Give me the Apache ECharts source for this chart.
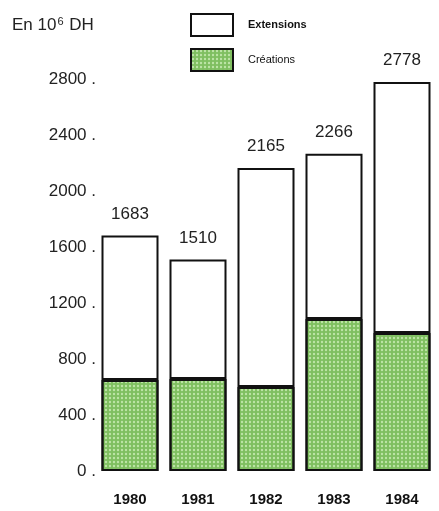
<!DOCTYPE html>
<html>
<head>
<meta charset="utf-8">
<script src="https://cdn.jsdelivr.net/npm/echarts@6/dist/echarts.min.js"></script>
<style>
  html, body { margin: 0; padding: 0; background: #fff; }
  #chart { width: 439px; height: 511px; }
</style>
</head>
<body>
<div id="chart"></div>
<script>
var years = ['1980', '1981', '1982', '1983', '1984'];
var creations = [650, 657, 600, 1086, 986];
var extensions = [1033, 853, 1565, 1180, 1792];
var totals = [1683, 1510, 2165, 2266, 2778];
var yTicks = [0, 400, 800, 1200, 1600, 2000, 2400, 2800];

var chart = echarts.init(document.getElementById('chart'), null, { renderer: 'canvas' });
var font = '"Liberation Sans", Arial, sans-serif';

var option = {
  animation: false,
  textStyle: { fontFamily: font },
  title: {
    text: '{t|En 10}{s|6}{t| DH}',
    left: 7,
    top: 11,
    textStyle: {
      fontWeight: 'normal',
      rich: {
        t: { fontSize: 17, color: '#222', fontFamily: font, fontWeight: 'normal' },
        s: { fontSize: 11, color: '#222', fontFamily: font, fontWeight: 'normal', verticalAlign: 'top', padding: [0, 1, 8, 1] }
      }
    }
  },
  legend: {
    orient: 'vertical',
    left: 185,
    top: 8,
    icon: 'rect',
    itemWidth: 42,
    itemHeight: 22,
    itemGap: 11,
    data: [
      { name: 'Extensions', textStyle: { fontWeight: 'bold', fontSize: 11, color: '#111' } },
      { name: 'Créations', textStyle: { fontSize: 11, color: '#111' } }
    ],
    textStyle: { fontFamily: font, padding: [0, 0, 0, 10] }
  },
  grid: {
    left: 96,
    right: 3,
    top: 79,
    bottom: 40
  },
  xAxis: {
    type: 'category',
    data: years,
    axisLine: { show: false },
    axisTick: { show: false },
    axisLabel: { margin: 21, fontSize: 15, fontWeight: 'bold', color: '#111', fontFamily: font }
  },
  yAxis: {
    type: 'value',
    min: 0,
    max: 2800,
    interval: 400,
    axisLine: { show: false },
    axisTick: { show: false },
    splitLine: { show: false },
    axisLabel: {
      margin: 0,
      fontSize: 17,
      color: '#222',
      fontFamily: font,
      formatter: function(v) { return yTicks.indexOf(v) >= 0 ? v + ' .' : ''; }
    }
  },
  series: [
    {
      name: 'Créations',
      type: 'bar',
      stack: 'total',
      barWidth: 57,
      data: creations,
      itemStyle: {
        color: '#7fbf60',
        borderColor: '#111',
        borderWidth: 2,
        decal: {
          symbol: 'circle',
          symbolSize: 0.6,
          color: 'rgba(210,240,190,0.75)',
          dashArrayX: [4, 0],
          dashArrayY: [4, 0],
          rotation: 0
        }
      }
    },
    {
      name: 'Extensions',
      type: 'bar',
      stack: 'total',
      barWidth: 57,
      data: extensions,
      itemStyle: { color: '#fff', borderColor: '#111', borderWidth: 2 },
      label: {
        show: true,
        position: 'top',
        distance: 13,
        fontSize: 17,
        color: '#222',
        fontFamily: font,
        formatter: function(p) { return totals[p.dataIndex]; }
      }
    }
  ]
};
chart.setOption(option);
window.addEventListener('resize', function() { chart.resize(); });
</script>
</body>
</html>
